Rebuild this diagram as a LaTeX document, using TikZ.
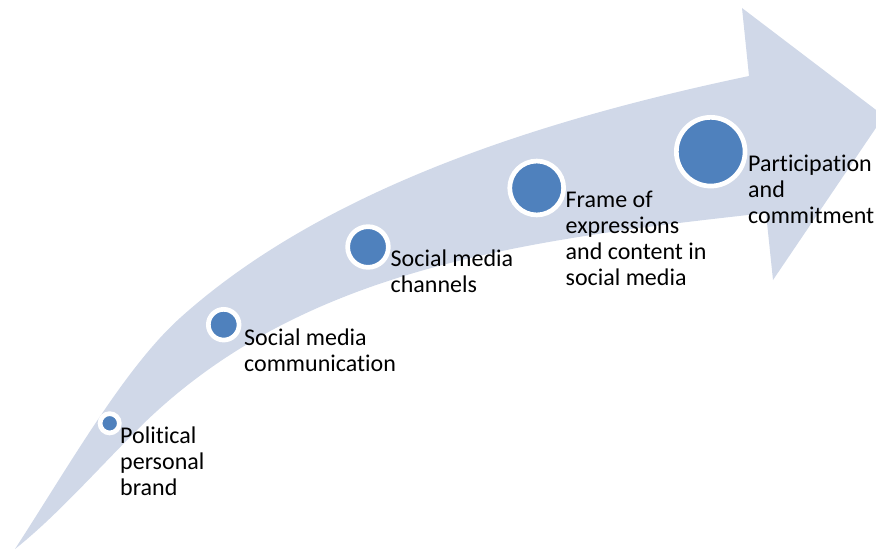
\documentclass[tikz,border=0pt]{standalone}
\usepackage{fontspec}
\setmainfont{Carlito}[Ligatures={NoCommon,NoContextual}]
\definecolor{arrowfill}{RGB}{208,216,232}
\definecolor{dotblue}{RGB}{79,129,189}
\begin{document}
\begin{tikzpicture}[x=1pt,y=-1pt,
  dot/.style={circle, fill=dotblue, draw=white, line width=4.7pt, inner sep=0pt},
  lbl/.style={anchor=base west, inner sep=0pt, font=\fontsize{24}{26}\selectfont}]
\useasboundingbox (0,0) rectangle (876,551);
\clip (0,0) rectangle (876,551);
% curved arrow
\fill[arrowfill] (15,549) .. controls (70,464) and (125,367.5) .. (180,318)
  .. controls (330,183) and (559,116) .. (749,76)
  -- (742,8) -- (884,116) -- (773,280) -- (766,213)
  .. controls (516,240.5) and (297,270) .. (137,430)
  .. controls (97,470) and (55,517.4) .. (15,549) -- cycle;
% circles
\node[dot, minimum size=19.3pt] (c1) at (109.7,423.3) {};
\node[dot, minimum size=30.7pt] (c2) at (223.7,324.7) {};
\node[dot, minimum size=40.7pt] (c3) at (368,247) {};
\node[dot, minimum size=53.9pt] (c4) at (536.7,188) {};
\node[dot, minimum size=68.7pt] (c5) at (710.7,151.7) {};
% labels
\node[lbl] (t1) at (120,443) {\begin{tabular}[t]{@{}l@{}}Political\\personal\\brand\end{tabular}};
\node[lbl] (t2) at (244,345) {\begin{tabular}[t]{@{}l@{}}Social media\\communication\end{tabular}};
\node[lbl] (t3) at (390.5,266.7) {\begin{tabular}[t]{@{}l@{}}Social media\\channels\end{tabular}};
\node[lbl] (t4) at (565.5,207.3) {\begin{tabular}[t]{@{}l@{}}Frame of\\expressions\\and content in\\social media\end{tabular}};
\node[lbl] (t5) at (748,171.7) {\begin{tabular}[t]{@{}l@{}}Participation\\and\\commitment\end{tabular}};
\end{tikzpicture}
\end{document}
